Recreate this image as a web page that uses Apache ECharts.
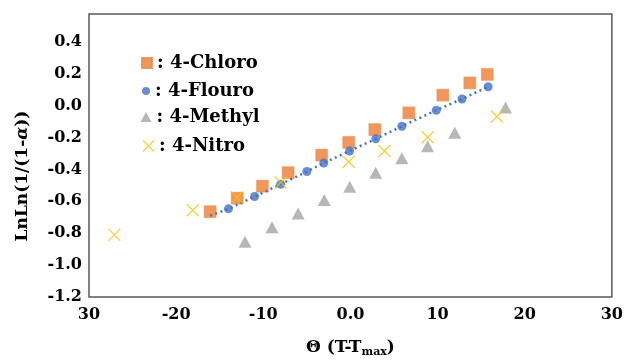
<!DOCTYPE html>
<html>
<head>
<meta charset="utf-8">
<script src="https://cdn.jsdelivr.net/npm/echarts@6/dist/echarts.min.js"></script>
<style>html,body{margin:0;padding:0;background:#fff}#c{width:626px;height:363px}</style>
</head>
<body>
<div id="c"></div>
<script>
// ---- data ----
const seriesNames = ['4-Chloro', '4-Flouro', '4-Methyl', '4-Nitro'];
const chloroX = [-16.1, -13.0, -10.1, -7.15, -3.3, -0.2, 2.8, 6.7, 10.6, 13.7, 15.7];
const chloroY = [-0.665, -0.58, -0.505, -0.42, -0.31, -0.23, -0.15, -0.045, 0.066, 0.143, 0.196];
const flouroX = [-14.0, -11.0, -8.0, -5.0, -3.06, -0.1, 2.9, 5.9, 9.85, 12.8, 15.8];
const flouroY = [-0.647, -0.57, -0.493, -0.413, -0.36, -0.284, -0.208, -0.129, -0.029, 0.042, 0.119];
const methylX = [-12.1, -9.0, -6.0, -3.0, -0.08, 2.9, 5.9, 8.86, 11.97, 17.8];
const methylY = [-0.854, -0.763, -0.677, -0.592, -0.509, -0.421, -0.33, -0.255, -0.17, -0.011];
const nitroX = [-27.1, -18.1, -13.0, -8.0, -0.2, 3.9, 8.86, 16.8];
const nitroY = [-0.81, -0.656, -0.576, -0.482, -0.352, -0.284, -0.198, -0.068];
// dotted trend line through 4-Flouro (starts at first point below)
const trendStartX = [-16.1];
const trendStartY = [-0.69];
const xTickValues = [-30, -20, -10, 0, 10, 20, 30];
const xTickLabels = ['30', '-20', '-10', '0.0', '10', '20', '30'];

const pairs = (xs, ys) => xs.map((x, i) => [x, ys[i]]);
const FONT = '"DejaVu Serif", "Liberation Serif", serif';
const NITRO_PATH = 'path://M0,0L10,10M10,0L0,10';

const legendStyle = [
  {name: '4-Chloro', icon: 'rect', w: 10, h: 10, cy: 63, style: {color: '#ED7D31'}},
  {name: '4-Flouro', icon: 'circle', w: 8, h: 8, cy: 91, style: {color: '#4472C4'}},
  {name: '4-Methyl', icon: 'triangle', w: 11, h: 10, cy: 117, style: {color: '#A5A5A5'}},
  {name: '4-Nitro', icon: NITRO_PATH, w: 11, h: 11, cy: 146, style: {color: 'none', borderColor: '#FFC000', borderWidth: 1.2}}
];

const chart = echarts.init(document.getElementById('c'), null, {renderer: 'canvas'});
chart.setOption({
  animation: false,
  grid: {left: 89, right: 12, top: 14, bottom: 58, show: true, borderColor: '#595959', borderWidth: 1.5, backgroundColor: 'transparent'},
  legend: legendStyle.map(l => ({
    orient: 'vertical', left: 146 - l.w / 2, top: l.cy - 10, padding: 0,
    itemWidth: l.w, itemHeight: l.h,
    data: [{name: l.name, icon: l.icon, itemStyle: l.style}],
    formatter: n => ': ' + n,
    textStyle: {fontFamily: FONT, fontWeight: 'bold', fontSize: 18, lineHeight: 20, color: '#000', padding: [0, 0, 0, 0]}
  })),
  xAxis: {
    type: 'value', min: -30, max: 30, interval: 10,
    axisLine: {show: false}, axisTick: {show: false}, splitLine: {show: false},
    axisLabel: {
      margin: 10, fontFamily: FONT, fontWeight: 'bold', fontSize: 16, color: '#000',
      formatter: v => { const i = xTickValues.indexOf(v); return i >= 0 ? xTickLabels[i] : ''; }
    },
    name: '{a|Θ (T-T}{b|max}{a|)}', nameLocation: 'middle', nameGap: 41,
    nameTextStyle: {
      rich: {
        a: {fontFamily: FONT, fontWeight: 'bold', fontSize: 17, color: '#000'},
        b: {fontFamily: FONT, fontWeight: 'bold', fontSize: 11, color: '#000', verticalAlign: 'bottom', padding: [9, 0, 0, 0]}
      }
    }
  },
  yAxis: {
    type: 'value', min: -1.2, max: 0.575, interval: 0.2,
    axisLine: {show: false}, axisTick: {show: false}, splitLine: {show: false},
    axisLabel: {
      margin: 7, showMaxLabel: false, fontFamily: FONT, fontWeight: 'bold', fontSize: 16, color: '#000',
      formatter: v => (Math.abs(v) < 1e-9 ? 0 : v).toFixed(1)
    },
    name: '{a|LnLn(1/(1-}{i|α}{a|))}', nameLocation: 'middle', nameRotate: 90, nameGap: 58,
    nameTextStyle: {
      padding: [0, 41, 0, 0],
      rich: {
        a: {fontFamily: FONT, fontWeight: 'bold', fontSize: 17, color: '#000'},
        i: {fontFamily: FONT, fontWeight: 'bold', fontStyle: 'italic', fontSize: 17, color: '#000'}
      }
    }
  },
  series: [
    {
      name: '4-Chloro', type: 'scatter', symbol: 'rect', symbolSize: 12,
      itemStyle: {color: '#ED7D31', borderColor: '#E58A4F', borderWidth: 0.5},
      data: pairs(chloroX, chloroY), z: 2
    },
    {
      name: 'trend', type: 'line', showSymbol: false, symbol: 'none', silent: true,
      lineStyle: {color: '#4472C4', width: 2.5, type: [2, 3.5]},
      data: pairs(trendStartX, trendStartY).concat(pairs(flouroX, flouroY)), z: 3
    },
    {
      name: '4-Flouro', type: 'scatter', symbol: 'circle', symbolSize: 9,
      itemStyle: {color: '#4472C4'},
      data: pairs(flouroX, flouroY), z: 4
    },
    {
      name: '4-Methyl', type: 'scatter', symbol: 'triangle', symbolSize: [13, 12],
      itemStyle: {color: '#A5A5A5'},
      data: pairs(methylX, methylY), z: 4
    },
    {
      name: '4-Nitro', type: 'scatter', symbol: NITRO_PATH, symbolSize: 12,
      itemStyle: {color: 'none', borderColor: '#FFC000', borderWidth: 1.2},
      data: pairs(nitroX, nitroY), z: 5
    }
  ]
});
</script>
</body>
</html>
